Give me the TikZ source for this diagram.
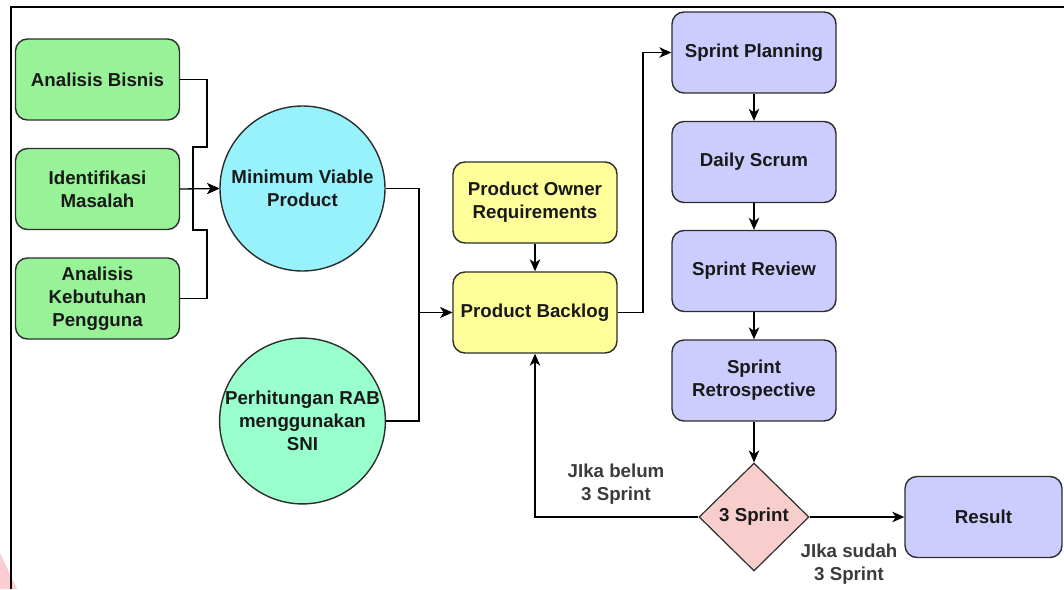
\documentclass[tikz,border=0pt]{standalone}
\usepackage{fontspec}
\setmainfont{Liberation Sans}
\usetikzlibrary{arrows.meta,shapes.geometric}

\definecolor{edgegray}{RGB}{45,45,45}
\definecolor{txt}{RGB}{25,25,25}
\definecolor{greenfill}{RGB}{152,242,152}
\definecolor{cyanfill}{RGB}{152,242,252}
\definecolor{mintfill}{RGB}{153,255,204}
\definecolor{yellowfill}{RGB}{255,255,153}
\definecolor{purplefill}{RGB}{204,204,255}
\definecolor{pinkfill}{RGB}{248,206,204}
\definecolor{markpink}{RGB}{250,205,210}

\begin{document}
\begin{tikzpicture}[x=1pt,y=-1pt,
  every node/.style={font=\fontsize{18.7}{23}\selectfont\bfseries, text=txt, align=center},
  box/.style={draw=edgegray, line width=1.4pt, rounded corners=12pt,
    minimum width=164pt, minimum height=81pt, inner sep=0pt},
  greenbox/.style={box, fill=greenfill},
  yellowbox/.style={box, fill=yellowfill},
  purplebox/.style={box, fill=purplefill},
  round/.style={circle, draw=edgegray, line width=1.4pt, minimum size=165pt, inner sep=0pt},
  decision/.style={diamond, draw=edgegray, line width=1.2pt, fill=pinkfill,
    minimum width=110pt, minimum height=108pt, inner sep=0pt},
  flow/.style={draw=black, line width=1.3pt,
    -{Stealth[length=12pt,width=10.5pt,inset=3.5pt]}},
  note/.style={text=txt!85}
]
\useasboundingbox (0,0) rectangle (1064,589);

% outer frame and corner mark
\fill[markpink] (0,553) -- (17,589) -- (0,589) -- cycle;
\draw[line width=1.8pt, black] (11,589) -- (11,7) -- (1064,7);

% analysis stage
\node[greenbox] (ab)  at (97.5,79.5)  {Analisis Bisnis};
\node[greenbox] (im)  at (97.5,189)   {Identifikasi\\Masalah};
\node[greenbox] (akp) at (97.5,298.5) {Analisis\\Kebutuhan\\Pengguna};

\node[round, fill=cyanfill] (mvp) at (302.5,188.5) {Minimum Viable\\Product};
\node[round, fill=mintfill] (rab) at (302.5,421)   {Perhitungan RAB\\menggunakan\\SNI};

% backlog
\node[yellowbox] (po) at (535,202.5) {Product Owner\\Requirements};
\node[yellowbox] (pb) at (535,312.5) {Product Backlog};

% sprint cycle
\node[purplebox] (sp)    at (754,52.5)  {Sprint Planning};
\node[purplebox] (ds)    at (754,162)   {Daily Scrum};
\node[purplebox] (sr)    at (754,271)   {Sprint Review};
\node[purplebox] (retro) at (754,380.5) {Sprint\\Retrospective};
\node[decision]  (dec)   at (754,517)   {3 Sprint};
\node[box, fill=purplefill, minimum width=157pt] (res) at (983.5,517) {Result};

% connectors into the MVP
\path[flow] (ab.east) -- (207,79.5) -- (207,147) -- (193,147) -- (193,188.5) -- (mvp.west);
\path[flow] (im.east) -- (mvp.west);
\path[flow] (akp.east) -- (207,298.5) -- (207,230) -- (193,230) -- (193,188.5) -- (mvp.west);

% into the backlog
\path[flow] (mvp.east) -- (419,188.5) -- (419,312.5) -- (pb.west);
\path[flow] (rab.east) -- (419,421) -- (419,312.5) -- (pb.west);
\path[flow] (po) -- (pb);

% sprint loop
\path[flow] (pb.east) -- (643,312.5) -- (643,52.5) -- (sp.west);
\path[flow] (sp) -- (ds);
\path[flow] (ds) -- (sr);
\path[flow] (sr) -- (retro);
\path[flow] (retro) -- (dec.north);
\path[flow] (dec.west) -- (535,517) -- (pb.south);
\path[flow] (dec.east) -- (res.west);

\node[note] (nobelum) at (616,484) {JIka belum\\3 Sprint};
\node[note] (sudah)   at (849,564) {JIka sudah\\3 Sprint};
\end{tikzpicture}
\end{document}
